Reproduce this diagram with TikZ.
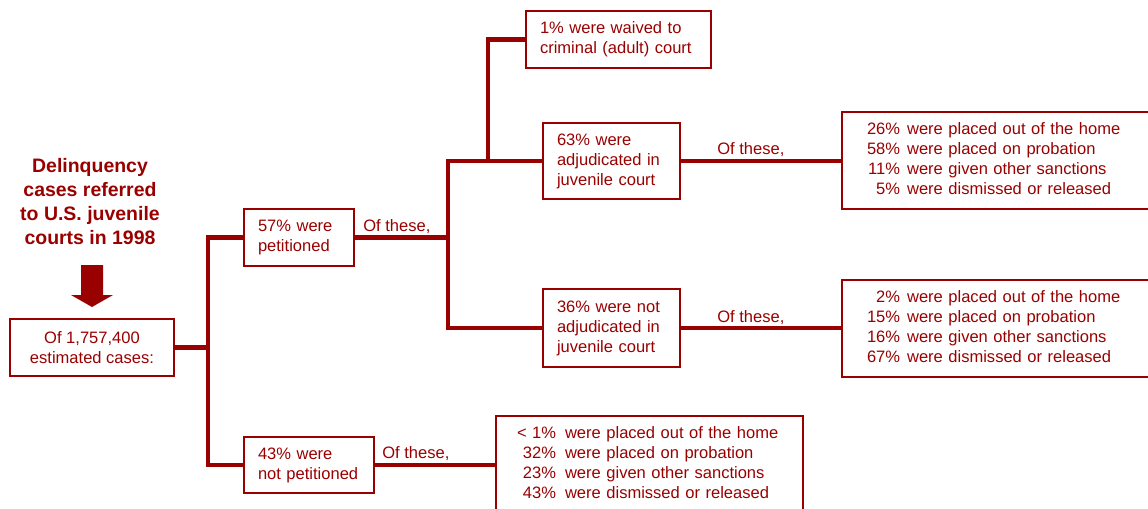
\documentclass[tikz,border=0pt]{standalone}
\usepackage{fontspec}
\setmainfont{Liberation Sans}
\usepackage{xcolor}
\usepackage{tikz}
\usetikzlibrary{positioning}

\definecolor{ojjred}{RGB}{153,0,0}
\newcommand{\boxfont}{\fontsize{12.4}{15}\selectfont}
\newcommand{\headfont}{\fontsize{14.6}{18}\selectfont\bfseries}

\begin{document}
\begin{tikzpicture}[x=0.75pt, y=-0.75pt, ojjred, text=ojjred,
  box/.style={draw, line width=1.5pt, anchor=north west, font=\boxfont,
    inner xsep=10.5pt, inner ysep=0pt, outer sep=0pt, align=left},
  link/.style={line width=3.2pt},
  note/.style={font=\boxfont, anchor=base west, inner sep=0pt}]

\useasboundingbox (0,0) rectangle (1148,508);

\node[font=\headfont, align=center] (0) at (90,202) {Delinquency\\cases referred\\to U.S. juvenile\\courts in 1998};
\fill (81,265) -- (103,265) -- (103,295) -- (113,295) -- (92,307) -- (71,295) -- (81,295) -- cycle;

\node[box, align=center, inner xsep=0pt, minimum width=123pt, minimum height=42.75pt] (1) at (10,319) {Of 1,757,400\\estimated cases:};
\node[box, text width=61.5pt, minimum height=42.75pt] (2) at (244,209) {57\% were\\petitioned};
\node[box, text width=76.5pt, minimum height=42pt] (3) at (244,437) {43\% were\\not petitioned};
\node[box, text width=117.75pt, minimum height=42.75pt] (4) at (526,11) {1\% were waived to\\criminal (adult) court};
\node[box, text width=81.75pt, minimum height=57pt] (5) at (543,123) {63\% were\\adjudicated in\\juvenile court};
\node[box, text width=81.75pt, minimum height=58.5pt] (6) at (543,289) {36\% were not\\adjudicated in\\juvenile court};

\node[box, inner xsep=18.75pt, text width=201pt, minimum height=72.75pt] (7) at (842,112)
  {\begin{tabular}{@{}r@{\hspace{5.25pt}}l@{}}
   26\% & were placed out of the home\\
   58\% & were placed on probation\\
   11\% & were given other sanctions\\
   5\% & were dismissed or released
  \end{tabular}};
\node[box, inner xsep=18.75pt, text width=201pt, minimum height=72.75pt] (8) at (842,280)
  {\begin{tabular}{@{}r@{\hspace{5.25pt}}l@{}}
   2\% & were placed out of the home\\
   15\% & were placed on probation\\
   16\% & were given other sanctions\\
   67\% & were dismissed or released
  \end{tabular}};
\node[box, inner xsep=15.75pt, text width=198.75pt, minimum height=72.75pt] (9) at (496,416)
  {\begin{tabular}{@{}r@{\hspace{6.75pt}}l@{}}
   < 1\% & were placed out of the home\\
   32\% & were placed on probation\\
   23\% & were given other sanctions\\
   43\% & were dismissed or released
  \end{tabular}};

\node[note] (10) at (363,231) {Of these,};
\node[note] (11) at (382,458) {Of these,};
\node[note] (12) at (717,154) {Of these,};
\node[note] (13) at (717,322) {Of these,};

\coordinate (j1) at (208,347.5);
\coordinate (j2) at (448,237.5);
\coordinate (j3) at (488,161);

\draw[link] (1.east) -- (j1);
\draw[link] (2.west) -| (j1) |- (3.west);
\draw[link] (2.east) -- (j2);
\draw[link] (5.west) -| (j2) |- (6.west);
\draw[link] (4.west) -| (j3);
\draw[link] (5.east) -- (5.east -| 7.west);
\draw[link] (6.east) -- (6.east -| 8.west);
\draw[link] (3.east) -- (3.east -| 9.west);
\end{tikzpicture}
\end{document}
